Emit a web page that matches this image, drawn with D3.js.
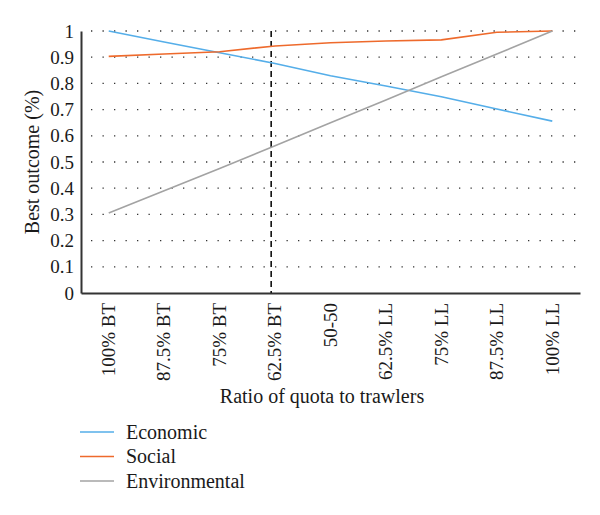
<!DOCTYPE html>
<html>
<head>
<meta charset="utf-8">
<script src="https://cdn.jsdelivr.net/npm/d3@7"></script>
<style>
  html, body { margin: 0; padding: 0; background: #fff; }
  svg text { font-family: "Liberation Serif", "Times New Roman", serif; fill: #1a1a1a; }
</style>
</head>
<body>
<svg id="chart" width="600" height="515"></svg>
<script>
// ---- data ----
const categories = ["100% BT", "87.5% BT", "75% BT", "62.5% BT", "50-50", "62.5% LL", "75% LL", "87.5% LL", "100% LL"];
const economic = [1.0, 0.958, 0.917, 0.876, 0.829, 0.79, 0.749, 0.702, 0.656];
const social = [0.903, 0.912, 0.921, 0.943, 0.955, 0.962, 0.966, 0.995, 1.0];
const environmental = [0.305, 0.39, 0.475, 0.562, 0.65, 0.737, 0.825, 0.912, 1.0];
const yTicks = [0, 0.1, 0.2, 0.3, 0.4, 0.5, 0.6, 0.7, 0.8, 0.9, 1];
const seriesNames = ["Economic", "Social", "Environmental"];
const seriesColors = ["#55aee9", "#ee6a2c", "#a3a3a3"];
const markerIndex = 2.93; // dashed vertical reference, in category-index units

// ---- layout ----
const svg = d3.select("#chart");
const mLeft = 81, mRight = 580, mTop = 31, mBottom = 293;

const x = d3.scaleBand().domain(categories).range([mLeft, mRight]).paddingInner(0).paddingOuter(0);
const xIdx = d3.scaleLinear().domain([-0.5, categories.length - 0.5]).range([mLeft, mRight]);
const y = d3.scaleLinear().domain([0, 1]).range([mBottom, mTop]);
const cx = c => x(c) + x.bandwidth() / 2;

// grid (dotted)
svg.append("g").selectAll("line")
  .data(yTicks.filter(d => d > 0))
  .join("line")
  .attr("x1", mLeft + 10).attr("x2", mRight)
  .attr("y1", d => y(d)).attr("y2", d => y(d))
  .attr("stroke", "#333").attr("stroke-width", 1.3)
  .attr("stroke-dasharray", "1.3,10.2");

// y axis
const yAxis = d3.axisLeft(y).tickValues(yTicks).tickSize(0).tickPadding(7)
  .tickFormat(d => d === 0 ? "0" : d === 1 ? "1" : d3.format(".1f")(d));
const gy = svg.append("g").attr("transform", `translate(${mLeft},0)`).call(yAxis);
gy.select(".domain").attr("stroke", "#333").attr("stroke-width", 2);
gy.selectAll("text").attr("font-size", 19).attr("fill", "#1a1a1a");

// x axis
const xAxis = d3.axisBottom(x).tickSize(0).tickPadding(0);
const gx = svg.append("g").attr("transform", `translate(0,${mBottom})`).call(xAxis);
gx.select(".domain").attr("stroke", "#333").attr("stroke-width", 2);
gx.selectAll("text")
  .attr("font-size", 19)
  .attr("fill", "#1a1a1a")
  .attr("transform", "rotate(-90)")
  .attr("text-anchor", "end")
  .attr("x", -10)
  .attr("y", 0)
  .attr("dy", "0.33em");
gy.attr("font-family", null);
gx.attr("font-family", null);

// dashed vertical marker
svg.append("line")
  .attr("x1", xIdx(markerIndex)).attr("x2", xIdx(markerIndex))
  .attr("y1", y(1)).attr("y2", y(0))
  .attr("stroke", "#111").attr("stroke-width", 1.6)
  .attr("stroke-dasharray", "6,4");

// lines
const seriesData = [economic, social, environmental];
const line = d3.line().x((d, i) => cx(categories[i])).y(d => y(d));
svg.append("g").selectAll("path")
  .data(seriesData)
  .join("path")
  .attr("d", d => line(d))
  .attr("fill", "none")
  .attr("stroke", (d, i) => seriesColors[i])
  .attr("stroke-width", 1.6);

// axis titles
svg.append("text")
  .attr("transform", `translate(39,${(mTop + mBottom) / 2}) rotate(-90)`)
  .attr("text-anchor", "middle")
  .attr("font-size", 20)
  .text("Best outcome (%)");

svg.append("text")
  .attr("x", 322).attr("y", 403)
  .attr("text-anchor", "middle")
  .attr("font-size", 20)
  .text("Ratio of quota to trawlers");

// legend
const lg = svg.append("g").selectAll("g")
  .data(seriesNames)
  .join("g")
  .attr("transform", (d, i) => `translate(0,${432 + i * 24.5})`);
lg.append("line").attr("x1", 80).attr("x2", 114).attr("y1", 0).attr("y2", 0)
  .attr("stroke", (d, i) => seriesColors[i]).attr("stroke-width", 1.4);
lg.append("text").attr("x", 126).attr("y", 0).attr("dy", "0.33em")
  .attr("font-size", 20).text(d => d);
</script>
</body>
</html>
